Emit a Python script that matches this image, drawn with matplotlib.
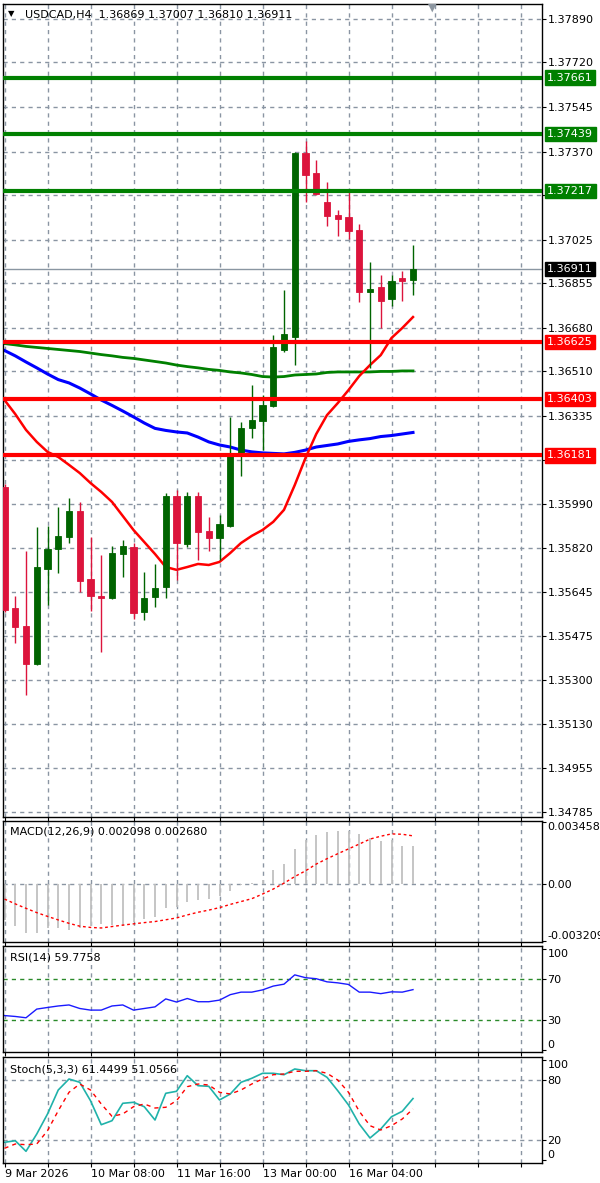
import matplotlib
matplotlib.use("Agg")
import matplotlib.pyplot as plt
import numpy as np

# USDCAD H4, bars from 9 Mar 2026 00:00
opens = [1.36058, 1.35584, 1.35513, 1.35365, 1.35736, 1.35815, 1.35862, 1.35964, 1.35697, 1.35631,
         1.35623, 1.35795, 1.35823, 1.35568, 1.35627, 1.35666, 1.36022, 1.35834, 1.36022, 1.35885,
         1.35858, 1.35905, 1.36191, 1.36289, 1.36316, 1.36375, 1.36594, 1.36645, 1.37365, 1.37287,
         1.37173, 1.37123, 1.37115, 1.37064, 1.36821, 1.36841, 1.36794, 1.36875, 1.36869]
highs = [1.36069, 1.35631, 1.35807, 1.35901, 1.35905, 1.35979, 1.36014, 1.35999, 1.35862, 1.35791,
         1.35827, 1.35850, 1.35838, 1.35725, 1.35756, 1.36034, 1.36046, 1.36038, 1.36038, 1.35940,
         1.35948, 1.36332, 1.36312, 1.36457, 1.36418, 1.36653, 1.36829, 1.37369, 1.37412, 1.37338,
         1.37252, 1.37142, 1.37220, 1.37087, 1.36939, 1.36888, 1.36888, 1.36903, 1.37007]
lows = [1.35568, 1.35447, 1.35243, 1.35361, 1.35596, 1.35721, 1.35838, 1.35646, 1.35572, 1.35412,
        1.35619, 1.35705, 1.35541, 1.35537, 1.35588, 1.35623, 1.35693, 1.35823, 1.35772, 1.35807,
        1.35772, 1.35901, 1.36101, 1.36249, 1.36202, 1.36371, 1.36586, 1.36535, 1.37173, 1.37201,
        1.37079, 1.37040, 1.37029, 1.36782, 1.36524, 1.36680, 1.36766, 1.36786, 1.36810]
closes = [1.35576, 1.35509, 1.35365, 1.35744, 1.35815, 1.35866, 1.35964, 1.35690, 1.35631, 1.35623,
          1.35799, 1.35827, 1.35564, 1.35623, 1.35662, 1.36022, 1.35838, 1.36022, 1.35881, 1.35858,
          1.35913, 1.36183, 1.36289, 1.36320, 1.36379, 1.36606, 1.36657, 1.37365, 1.37279, 1.37205,
          1.37119, 1.37107, 1.37060, 1.36821, 1.36833, 1.36786, 1.36864, 1.36866, 1.36911]

# moving averages (by line colour)
ma_green = [1.36619, 1.36614, 1.36608, 1.36604, 1.36600, 1.36596, 1.36592, 1.36588, 1.36582, 1.36576,
            1.36571, 1.36565, 1.36561, 1.36555, 1.36549, 1.36543, 1.36535, 1.36529, 1.36524, 1.36518,
            1.36514, 1.36508, 1.36504, 1.36498, 1.36490, 1.36488, 1.36490, 1.36496, 1.36498, 1.36500,
            1.36506, 1.36508, 1.36508, 1.36508, 1.36508, 1.36510, 1.36510, 1.36512, 1.36512]
ma_blue = [1.36592, 1.36571, 1.36547, 1.36524, 1.36500, 1.36478, 1.36465, 1.36445, 1.36422, 1.36398,
           1.36377, 1.36355, 1.36332, 1.36308, 1.36287, 1.36279, 1.36273, 1.36269, 1.36253, 1.36234,
           1.36222, 1.36214, 1.36202, 1.36195, 1.36191, 1.36189, 1.36187, 1.36193, 1.36202, 1.36214,
           1.36220, 1.36226, 1.36236, 1.36242, 1.36247, 1.36255, 1.36259, 1.36265, 1.36271]
ma_red = [1.36398, 1.36343, 1.36281, 1.36234, 1.36195, 1.36175, 1.36144, 1.36112, 1.36073, 1.36038,
          1.35999, 1.35944, 1.35889, 1.35842, 1.35795, 1.35744, 1.35733, 1.35744, 1.35756, 1.35752,
          1.35764, 1.35799, 1.35838, 1.35866, 1.35889, 1.35921, 1.35968, 1.36065, 1.36171, 1.36265,
          1.36339, 1.36386, 1.36437, 1.36492, 1.36535, 1.36574, 1.36641, 1.36680, 1.36723]

res_levels = [1.37661, 1.37439, 1.37217]
sup_levels = [1.36625, 1.36403, 1.36181]
last_price = 1.36911

price_ticks = [1.37890, 1.37720, 1.37545, 1.37370, 1.37200, 1.37025, 1.36855, 1.36680, 1.36510,
               1.36335, 1.36165, 1.35990, 1.35820, 1.35645, 1.35475, 1.35300, 1.35130, 1.34955, 1.34785]

macd_hist = [-0.00203, -0.00239, -0.00275, -0.00275, -0.00248, -0.00248, -0.00257, -0.00248, -0.00239, -0.00225,
             -0.00230, -0.00239, -0.00212, -0.00200, -0.00185, -0.00135, -0.00131, -0.00104, -0.00092, -0.00086,
             -0.00068, -0.00041, -0.00009, 0.00004, 0.00022, 0.00076, 0.00112, 0.00193, 0.00247, 0.00274,
             0.00292, 0.00297, 0.00297, 0.00279, 0.00256, 0.00238, 0.00243, 0.00213, 0.002098]
macd_signal = [-0.00086, -0.00113, -0.00138, -0.00162, -0.00183, -0.00203, -0.00222, -0.00238, -0.00245, -0.00248,
               -0.00240, -0.00232, -0.00225, -0.00218, -0.00212, -0.00202, -0.00192, -0.00175, -0.00160, -0.00148,
               -0.00134, -0.00116, -0.00100, -0.00084, -0.00058, -0.00030, 0.00003, 0.00040, 0.00072, 0.00110,
               0.00140, 0.00168, 0.00195, 0.00222, 0.00250, 0.00266, 0.00279, 0.00277, 0.00268]

rsi = [34.1, 33.2, 31.9, 40.5, 42.1, 43.6, 44.6, 41.1, 39.5, 39.5, 43.6, 44.6, 39.5, 41.1, 42.7, 50.6,
       47.5, 51.0, 47.8, 47.8, 49.4, 54.8, 57.3, 57.3, 59.5, 63.3, 65.2, 74.4, 71.6, 70.6, 67.5, 66.5,
       64.9, 57.3, 57.3, 55.8, 57.6, 57.3, 59.78]

stoch_k = [17.7, 19.3, 8.7, 26.0, 46.0, 70.0, 81.0, 77.7, 59.3, 35.3, 39.3, 56.7, 57.7, 53.3, 40.0, 66.7,
           68.7, 84.3, 74.3, 73.7, 60.0, 66.0, 77.7, 81.7, 86.7, 86.7, 85.3, 91.0, 89.3, 89.3, 82.7, 69.3,
           55.0, 36.0, 22.0, 31.0, 43.3, 48.7, 61.45]
stoch_d = [11.7, 16.0, 15.3, 16.0, 29.3, 49.3, 67.7, 76.0, 70.0, 56.0, 43.7, 46.0, 53.3, 56.0, 52.0, 52.7,
           59.3, 73.3, 76.0, 75.0, 67.7, 66.0, 70.0, 76.0, 81.0, 85.3, 86.0, 88.7, 88.7, 89.3, 86.7, 80.0,
           67.7, 48.7, 34.3, 30.0, 34.3, 41.0, 51.06]

date_labels = {0: "9 Mar 2026", 8: "10 Mar 08:00", 16: "11 Mar 16:00", 24: "13 Mar 00:00", 32: "16 Mar 04:00"}

GRID = "#8a95a3"
W, H = 600, 1183


def box(top, bottom):
    return [3 / W, 1 - bottom / H, 539 / W, (bottom - top) / H]


def style_panel(a):
    a.set_xlim(-0.14, 50.0)
    a.set_xticks(range(0, 52, 4))
    a.grid(axis="x", color=GRID, ls=(0, (3, 3)), lw=1)
    a.yaxis.tick_right()
    a.tick_params(axis="y", length=3, pad=1, labelsize=8, direction="out")
    a.tick_params(axis="x", length=3, labelbottom=False)
    for s in a.spines.values():
        s.set_color("black")
        s.set_linewidth(1)


fig = plt.figure(figsize=(6, 11.83), dpi=100)
ax = fig.add_axes(box(4, 817))
ax_macd = fig.add_axes(box(821, 942))
ax_rsi = fig.add_axes(box(946, 1052))
ax_sto = fig.add_axes(box(1057, 1163))
for a in (ax, ax_macd, ax_rsi, ax_sto):
    style_panel(a)

# --- price panel
x = np.arange(len(opens))
o = np.array(opens)
c = np.array(closes)
col = np.where(c >= o, "#006400", "#DC143C")
ax.set_ylim(1.34765, 1.37949)
ax.set_yticks(price_ticks)
ax.set_yticklabels([f"{v:.5f}" for v in price_ticks])
ax.grid(axis="y", color=GRID, ls=(0, (3, 3)), lw=1)

ax.plot(x, ma_green, color="#008000", lw=2, zorder=2)
ax.plot(x, ma_blue, color="#0000FF", lw=2.2, zorder=2)
ax.plot(x, ma_red, color="#FF0000", lw=1.8, zorder=2)
ax.vlines(x, lows, highs, colors=col, lw=1, zorder=3)
ax.bar(x, c - o, bottom=o, width=0.56, color=col, edgecolor=col, lw=0.6, zorder=3)

ax.axhline(last_price, color="#8a96a2", lw=1, zorder=1.6)
for lv in res_levels:
    ax.axhline(lv, color="#008000", lw=3, zorder=4)
for lv in sup_levels:
    ax.axhline(lv, color="#FF0000", lw=3, zorder=4)


def price_tag(y, text, bg):
    ax.annotate(text, xy=(1, y), xycoords=("axes fraction", "data"), xytext=(3.8, 0),
                textcoords="offset points", ha="left", va="center", fontsize=8, color="white",
                annotation_clip=False, zorder=10,
                bbox=dict(boxstyle="square,pad=0.2", fc=bg, ec=bg))


for lv in res_levels:
    price_tag(lv, f"{lv:.5f}", "#008000")
for lv in sup_levels:
    price_tag(lv, f"{lv:.5f}", "#FF0000")
price_tag(last_price, f"{last_price:.5f}", "black")

# --- MACD panel
ax_macd.set_ylim(-0.003266, 0.003513)
ax_macd.axhline(0, color=GRID, ls=(0, (3, 3)), lw=1)
ax_macd.vlines(x, 0, macd_hist, color="#C0C0C0", lw=1.3)
ax_macd.plot(x, macd_signal, color="red", lw=1, ls=(0, (2, 2)))
ax_macd.set_yticks([0.003458, 0.0, -0.003209])
ax_macd.set_yticklabels(["0.003458", "0.00", "-0.003209"])
lbls = ax_macd.get_yticklabels()
lbls[0].set_va("top")
lbls[2].set_va("bottom")

# --- RSI panel
ax_rsi.set_ylim(-2, 103)
for lv in (70, 30):
    ax_rsi.axhline(lv, color="#2a8a2a", ls=(0, (3, 3)), lw=1)
ax_rsi.plot(x, rsi, color="#1a1aff", lw=1)
ax_rsi.set_yticks([100, 70, 30, 0])
lbls = ax_rsi.get_yticklabels()
lbls[0].set_va("top")
lbls[3].set_va("bottom")

# --- Stochastic panel
ax_sto.set_ylim(-3, 103)
for lv in (80, 20):
    ax_sto.axhline(lv, color=GRID, ls=(0, (3, 3)), lw=1)
ax_sto.plot(x, stoch_k, color="#20B2AA", lw=1.2)
ax_sto.plot(x, stoch_d, color="red", lw=1, ls=(0, (3, 3)))
ax_sto.set_yticks([100, 80, 20, 0])
lbls = ax_sto.get_yticklabels()
lbls[0].set_va("top")
lbls[3].set_va("bottom")
ax_sto.tick_params(axis="x", labelbottom=True, labelsize=8, pad=1)
ax_sto.set_xticklabels([date_labels.get(i, "") for i in range(0, 52, 4)])
for t in ax_sto.get_xticklabels():
    t.set_ha("left")

# --- texts
fig.text(8 / W, 1 - 14 / H, "\u25BC", fontsize=6, va="center")
fig.text(25 / W, 1 - 15 / H, "USDCAD,H4  1.36869 1.37007 1.36810 1.36911", fontsize=8, va="center")
fig.text(432 / W, 1 - 8 / H, "\u25BC", fontsize=8, color="#8c96a0", ha="center", va="center")
fig.text(10 / W, 1 - 831 / H, "MACD(12,26,9) 0.002098 0.002680", fontsize=8, va="center")
fig.text(10 / W, 1 - 957 / H, "RSI(14) 59.7758", fontsize=8, va="center")
fig.text(10 / W, 1 - 1070 / H, "Stoch(5,3,3) 61.4499 51.0566", fontsize=8, va="center")

fig.savefig("out.png", dpi=100)
